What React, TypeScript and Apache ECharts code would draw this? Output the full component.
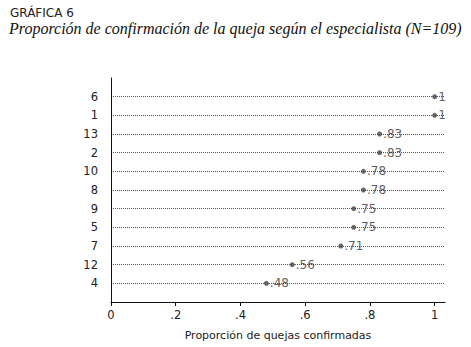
import React, { useEffect, useRef } from "react";
import * as echarts from "echarts";

const specialists = ["6", "1", "13", "2", "10", "8", "9", "5", "7", "12", "4"];
const proportions = [1, 1, 0.83, 0.83, 0.78, 0.78, 0.75, 0.75, 0.71, 0.56, 0.48];
const xTicks = [0, 0.2, 0.4, 0.6, 0.8, 1];
const xTickLabels = ["0", ".2", ".4", ".6", ".8", "1"];

const FONT = "'DejaVu Sans', sans-serif";

export default function App() {
  const ref = useRef<HTMLDivElement>(null);
  useEffect(() => {
    if (!ref.current) return;
    const chart = echarts.init(ref.current, null, { renderer: "svg" });
    const cats = ["", ...specialists.slice().reverse(), ""];
    const vals = proportions.slice().reverse();
    const data = vals.map((v, i) => [v, cats[i + 1]]);
    chart.setOption({
      animation: false,
      backgroundColor: "#fff",
      title: [
        {
          text: "GRÁFICA 6",
          left: 5,
          top: 2,
          textStyle: { fontFamily: FONT, fontSize: 12, fontWeight: "normal", color: "#222" },
        },
        {
          text: "Proporción de confirmación de la queja según el especialista (N=109)",
          left: 4,
          top: 15,
          textStyle: {
            fontFamily: "'Liberation Serif', serif",
            fontStyle: "italic",
            fontSize: 16,
            fontWeight: "normal",
            color: "#111",
          },
        },
      ],
      grid: { left: 111, top: 78, right: 26, bottom: 45, containLabel: false },
      xAxis: {
        type: "value",
        min: 0,
        max: 1.032,
        name: "Proporción de quejas confirmadas",
        nameLocation: "middle",
        nameGap: 28,
        nameTextStyle: { fontFamily: FONT, fontSize: 11, color: "#222" },
        axisLine: { show: true, lineStyle: { color: "#111", width: 1 } },
        axisTick: { show: true, length: 4, lineStyle: { color: "#111" }, customValues: xTicks },
        axisLabel: {
          customValues: xTicks,
          formatter: (v: number) => {
            const i = xTicks.findIndex((t) => Math.abs(t - v) < 1e-6);
            return i >= 0 ? xTickLabels[i] : "";
          },
          fontFamily: FONT,
          fontSize: 11.5,
          color: "#222",
          margin: 7,
        },
        splitLine: { show: false },
      },
      yAxis: {
        type: "category",
        data: cats,
        boundaryGap: false,
        axisLine: { show: true, lineStyle: { color: "#111", width: 1 } },
        axisTick: { show: false },
        axisLabel: { fontFamily: FONT, fontSize: 11.5, color: "#222", margin: 13 },
        splitLine: {
          show: true,
          interval: (index: number) => index > 0 && index < cats.length - 1,
          lineStyle: { color: "#555", width: 1, type: [1, 1] },
        },
      },
      series: [
        {
          type: "scatter",
          data,
          symbol: "circle",
          symbolSize: 5,
          itemStyle: { color: "#444" },
          label: {
            show: true,
            position: "right",
            distance: 1,
            formatter: (p: any) => String(p.value[0]).replace(/^0/, ""),
            fontFamily: FONT,
            fontSize: 12,
            color: "#333",
          },
        },
      ],
    });
    return () => chart.dispose();
  }, []);
  return <div ref={ref} style={{ width: 471, height: 347, position: "absolute", left: 0, top: 0 }} />;
}
